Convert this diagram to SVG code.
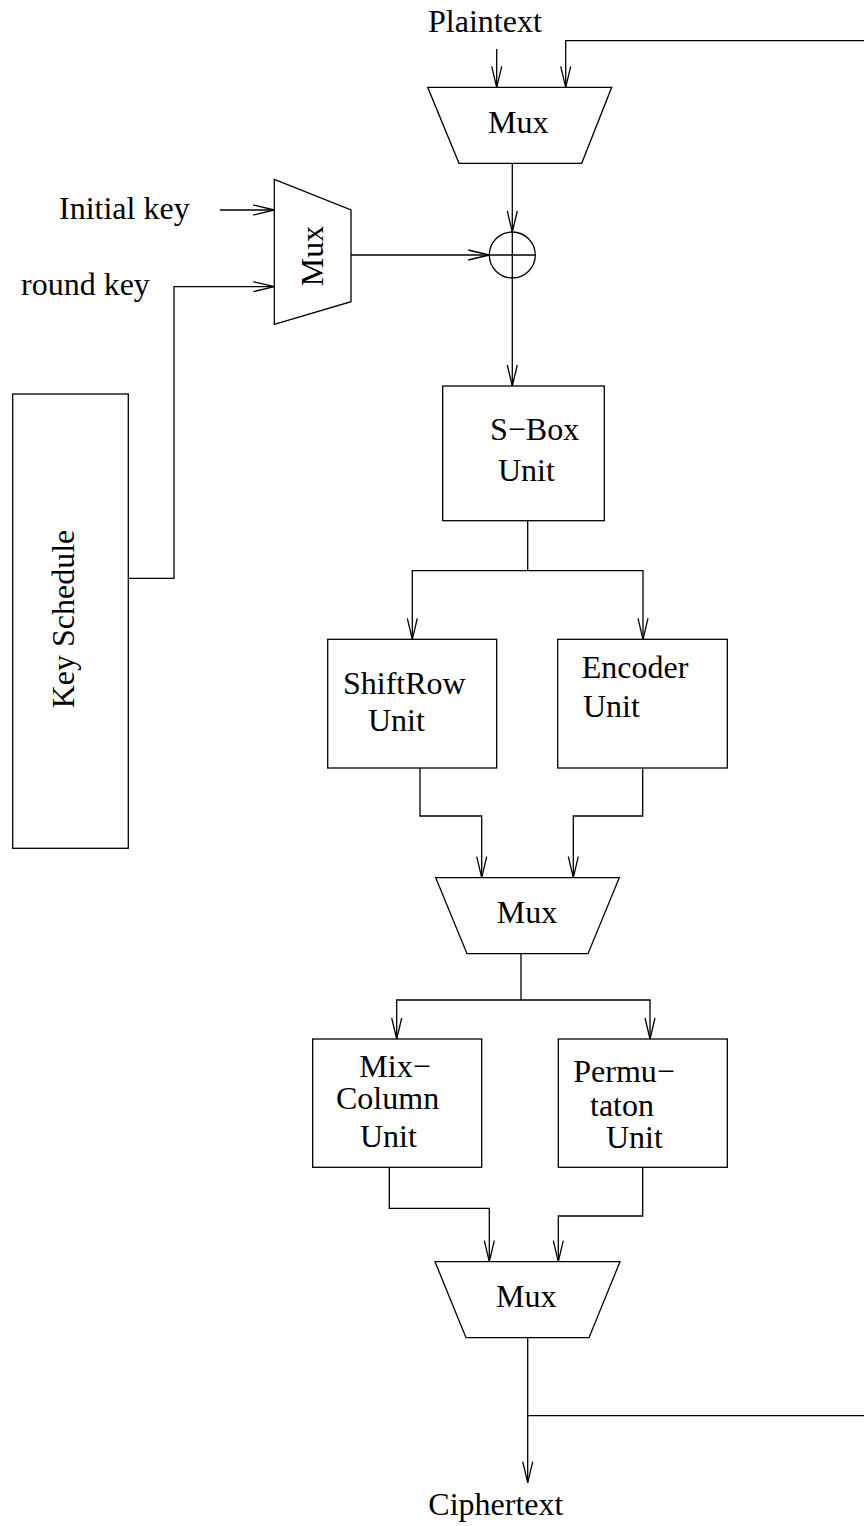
<svg xmlns="http://www.w3.org/2000/svg" width="864" height="1526" viewBox="0 0 864 1526">
  <style>
    .shape { fill: none; stroke: #000; stroke-width: 1.3; }
    .wire { fill: none; stroke: #000; stroke-width: 1.3; }
    .arr { marker-end: url(#vhead); }
    text { font-family: "Liberation Serif", "Times New Roman", serif; font-size: 32px; fill: #000; }
  </style>
  <defs>
    <!-- open V arrowhead used on every wire end -->
    <marker id="vhead" markerUnits="userSpaceOnUse" markerWidth="24" markerHeight="14" viewBox="-22 -7 24 14" refX="0" refY="0" orient="auto" overflow="visible">
      <path d="M-21,-5 L0,0 L-21,5" fill="none" stroke="#000" stroke-width="1.3"/>
    </marker>
  </defs>
  <rect x="0" y="0" width="864" height="1526" fill="#fff"/>

  <!-- wires -->
  <g id="connectors">
    <!-- plaintext and feedback into the input mux -->
    <line class="wire arr" x1="496.7" y1="49" x2="496.7" y2="87.3"/>
    <polyline class="wire arr" points="864,40.7 565.7,40.7 565.7,87.3"/>
    <!-- input mux to xor -->
    <line class="wire arr" x1="512.3" y1="163.3" x2="512.3" y2="232"/>
    <!-- key inputs -->
    <line class="wire arr" x1="220" y1="210" x2="274.3" y2="210"/>
    <polyline class="wire arr" points="128.3,578.3 174,578.3 174,286.7 274.3,286.7"/>
    <!-- key mux to xor -->
    <line class="wire arr" x1="351" y1="255" x2="489.3" y2="255"/>
    <!-- xor to s-box -->
    <line class="wire arr" x1="512.3" y1="278" x2="512.3" y2="386"/>
    <!-- s-box fan-out -->
    <polyline class="wire" points="527.7,520.7 527.7,570.7"/>
    <polyline class="wire arr" points="527.7,570.7 412.3,570.7 412.3,639.3"/>
    <polyline class="wire arr" points="527.7,570.7 643,570.7 643,639.3"/>
    <!-- shiftrow / encoder to mux 2 -->
    <polyline class="wire arr" points="420,768 420,816 481.7,816 481.7,877.7"/>
    <polyline class="wire arr" points="642.7,768 642.7,816 573.3,816 573.3,877.7"/>
    <!-- mux 2 fan-out -->
    <polyline class="wire" points="521,953.7 521,1000"/>
    <polyline class="wire arr" points="521,1000 396.7,1000 396.7,1039"/>
    <polyline class="wire arr" points="521,1000 650,1000 650,1039"/>
    <!-- mixcolumn / permutation to mux 3 -->
    <polyline class="wire arr" points="389.3,1167.3 389.3,1208.3 489.3,1208.3 489.3,1261.7"/>
    <polyline class="wire arr" points="642.7,1167.3 642.7,1216 558.3,1216 558.3,1261.7"/>
    <!-- output and feedback -->
    <line class="wire arr" x1="527.7" y1="1337.7" x2="527.7" y2="1482.7"/>
    <line class="wire" x1="527.7" y1="1415.7" x2="864" y2="1415.7"/>
  </g>

  <g id="plaintext-label"><text x="428" y="32">Plaintext</text></g>
  <g id="initial-key-label"><text x="59" y="219">Initial key</text></g>
  <g id="round-key-label"><text x="21" y="295">round key</text></g>

  <g id="mux-in">
    <polygon class="shape" points="427.7,87.3 611.7,87.3 581.7,163.3 459,163.3"/>
    <text x="488" y="133">Mux</text>
  </g>

  <g id="mux-key">
    <polygon class="shape" points="274.3,179.3 351,210 351,301.7 274.3,324.3"/>
    <text transform="translate(323,256) rotate(-90)" text-anchor="middle">Mux</text>
  </g>

  <g id="xor">
    <circle class="shape" cx="512.3" cy="255" r="23"/>
    <line class="shape" x1="489.3" y1="255" x2="535.3" y2="255"/>
    <line class="shape" x1="512.3" y1="232" x2="512.3" y2="278"/>
  </g>

  <g id="key-schedule">
    <rect class="shape" x="12.7" y="394" width="115.6" height="454.3"/>
    <text transform="translate(74,619) rotate(-90)" text-anchor="middle">Key Schedule</text>
  </g>

  <g id="sbox">
    <rect class="shape" x="442.7" y="386" width="161.6" height="134.7"/>
    <text x="490" y="440">S−Box</text>
    <text x="498" y="480.7">Unit</text>
  </g>

  <g id="shiftrow">
    <rect class="shape" x="327.7" y="639.3" width="169" height="128.7"/>
    <text x="343" y="694">ShiftRow</text>
    <text x="368" y="731">Unit</text>
  </g>

  <g id="encoder">
    <rect class="shape" x="557.7" y="639.3" width="169.6" height="128.7"/>
    <text x="581.7" y="678">Encoder</text>
    <text x="583" y="716.7">Unit</text>
  </g>

  <g id="mux-mid">
    <polygon class="shape" points="435.7,877.7 619.3,877.7 588,953.7 467,953.7"/>
    <text x="496.7" y="923.3">Mux</text>
  </g>

  <g id="mixcolumn">
    <rect class="shape" x="312.7" y="1039" width="169" height="128.3"/>
    <text x="359.3" y="1076.7">Mix−</text>
    <text x="336" y="1109.3">Column</text>
    <text x="360" y="1146.7">Unit</text>
  </g>

  <g id="permutation">
    <rect class="shape" x="558.3" y="1039" width="169" height="128.3"/>
    <text x="573.3" y="1082">Permu−</text>
    <text x="590" y="1116">taton</text>
    <text x="606" y="1148">Unit</text>
  </g>

  <g id="mux-out">
    <polygon class="shape" points="435,1261.7 620,1261.7 589,1337.7 466,1337.7"/>
    <text x="496" y="1307.3">Mux</text>
  </g>

  <g id="ciphertext-label"><text x="428.3" y="1515">Ciphertext</text></g>
</svg>
